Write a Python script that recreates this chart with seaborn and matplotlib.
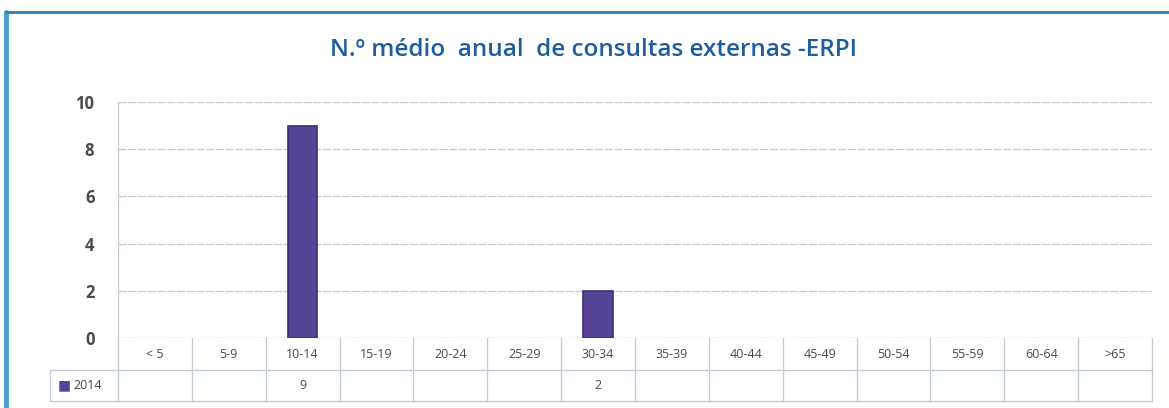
import matplotlib
matplotlib.use("Agg")
import matplotlib.pyplot as plt
import seaborn as sns
import pandas as pd
import numpy as np
from matplotlib.lines import Line2D

categories = ["< 5", "5-9", "10-14", "15-19", "20-24", "25-29", "30-34",
              "35-39", "40-44", "45-49", "50-54", "55-59", "60-64", ">65"]
values_2014 = [None, None, 9, None, None, None, 2,
               None, None, None, None, None, None, None]
series_name = "2014"
yticks = [0, 2, 4, 6, 8, 10]
title = "N.º médio  anual  de consultas externas -ERPI"

sns.set_theme(style="white")
plt.rcParams['font.family'] = ['Open Sans', 'DejaVu Sans']

bar_color = "#574496"
grid_color = "#c3ccd6"
text_color = "#4a4a4a"

fig = plt.figure(figsize=(11.69, 4.08), dpi=100)
W, H = 1169, 408
ax = fig.add_axes([118 / W, (H - 338) / H, (1152 - 118) / W, (338 - 102) / H])

vals = np.array([np.nan if v is None else v for v in values_2014], dtype=float)
df = pd.DataFrame({"cat": categories, "val": vals})
sns.barplot(data=df, x="cat", y="val", color=bar_color, width=0.4, ax=ax,
            edgecolor="#3b2f78", linewidth=1.2, saturation=1)

ax.set_ylim(0, 10)
ax.set_xlim(-0.5, len(categories) - 0.5)
ax.set_yticks(yticks)
ax.set_yticklabels([str(t) for t in yticks], fontsize=12, color=text_color,
                   fontweight="bold")
ax.tick_params(axis="y", length=0, pad=17)
ax.set_xticks([])
ax.set_xlabel("")
ax.set_ylabel("")
for s in ax.spines.values():
    s.set_visible(False)
for t in yticks:
    ax.axhline(t, color=grid_color, lw=1.0, ls=(0, (6, 1)), zorder=0)
ax.axvline(-0.5, color=grid_color, lw=1.0, zorder=0)

# Data table below the plot
trans = ax.get_xaxis_transform()
h1 = -(370 - 338) / 236
h2 = -(401 - 338) / 236
n = len(categories)
lkw = dict(color=grid_color, lw=1.0, transform=trans, clip_on=False)
ax.add_line(Line2D([-0.5, n - 0.5], [h1, h1], **lkw))
ax.add_line(Line2D([-0.5 - 68 / 74, n - 0.5], [h2, h2], **lkw))
ax.add_line(Line2D([-0.5 - 68 / 74, -0.5], [h1, h1], **lkw))
for i in range(n + 1):
    ax.add_line(Line2D([i - 0.5, i - 0.5], [0, h2], **lkw))
ax.add_line(Line2D([-0.5 - 68 / 74, -0.5 - 68 / 74], [h1, h2], **lkw))

for i, c in enumerate(categories):
    ax.text(i, h1 / 2, c, transform=trans, ha="center", va="center",
            fontsize=9, color=text_color, clip_on=False)
    v = values_2014[i]
    if v is not None:
        ax.text(i, (h1 + h2) / 2, str(v), transform=trans, ha="center",
                va="center", fontsize=9, color=text_color, clip_on=False)

ax.text(-0.5 - 60 / 74, (h1 + h2) / 2, "■", transform=trans, ha="left",
        va="center", fontsize=10, color=bar_color, clip_on=False,
        family=["DejaVu Sans"])
ax.text(-0.5 - 45 / 74, (h1 + h2) / 2, series_name, transform=trans, ha="left",
        va="center", fontsize=9, color=text_color, clip_on=False)

fig.text(593 / W, 1 - 50 / H, title, ha="center", va="center", fontsize=17.5,
         color="#1d5f9e", fontweight="semibold")

# outer frame (left and top edges visible)
fig.add_artist(Line2D([6 / W, 6 / W], [0, 1 - 12 / H], transform=fig.transFigure,
                      color="#4a9fd4", lw=3.5))
fig.add_artist(Line2D([6 / W, 1], [1 - 12 / H, 1 - 12 / H],
                      transform=fig.transFigure, color="#2f7fb5", lw=2.0))

fig.savefig("out.png", dpi=100, facecolor="white")
